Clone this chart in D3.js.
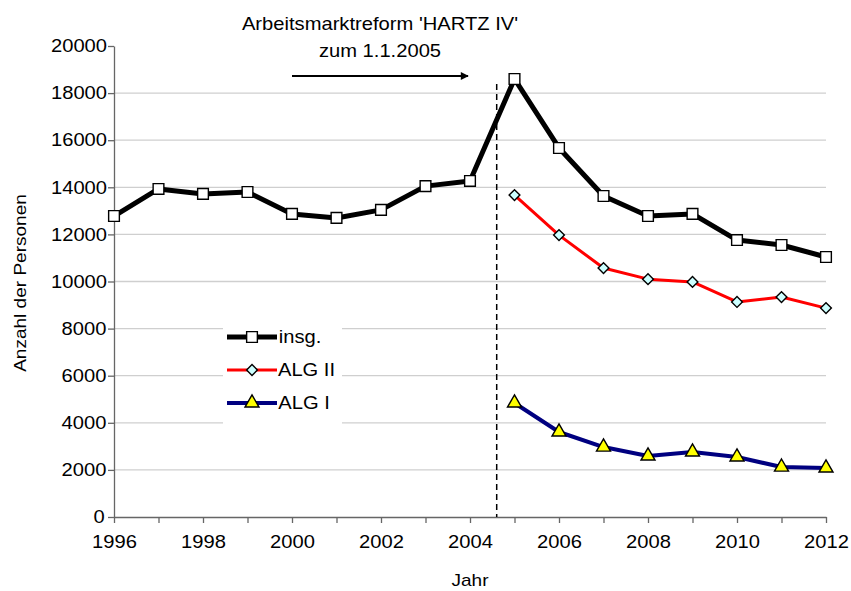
<!DOCTYPE html>
<html>
<head>
<meta charset="utf-8">
<script src="https://cdn.jsdelivr.net/npm/d3@7"></script>
<style>
  body { margin: 0; background: #fff; }
  svg text { font-family: "Liberation Sans", Arial, sans-serif; fill: #000;
    transform-box: fill-box; transform-origin: center; transform: scaleX(1.12); }
</style>
</head>
<body>
<div id="chart"></div>
<script>
var w = 851, h = 591;
var mLeft = 114, mRight = 826, mTop = 46, mBottom = 517;

// data
var years = [1996, 1997, 1998, 1999, 2000, 2001, 2002, 2003, 2004, 2005, 2006, 2007, 2008, 2009, 2010, 2011, 2012];
var insg = [12780, 13930, 13720, 13800, 12870, 12700, 13040, 14050, 14270, 18600, 15670, 13630, 12780, 12870, 11760, 11550, 11040];
var yearsAlg = [2005, 2006, 2007, 2008, 2009, 2010, 2011, 2012];
var algII = [13670, 11970, 10570, 10100, 9980, 9130, 9340, 8870];
var algI = [4840, 3610, 2970, 2590, 2760, 2550, 2120, 2080];
var yTicks = [0, 2000, 4000, 6000, 8000, 10000, 12000, 14000, 16000, 18000, 20000];
var seriesNames = ["insg.", "ALG II", "ALG I"];
var reformYear = 2004.6;
var noteLines = ["Arbeitsmarktreform 'HARTZ IV'", "zum 1.1.2005"];
var xTitle = "Jahr", yTitle = "Anzahl der Personen";

var svg = d3.select("#chart").append("svg").attr("width", w).attr("height", h);

var x = d3.scaleLinear().domain([1996, 2012]).range([mLeft, mRight]);
var y = d3.scaleLinear().domain([0, 20000]).range([mBottom, mTop]);

// gridlines
svg.append("g").selectAll("line")
    .data(yTicks.filter(function(d) { return d > 0 && d < 20000; }))
    .enter().append("line")
    .attr("x1", mLeft).attr("x2", mRight)
    .attr("y1", function(d) { return y(d); }).attr("y2", function(d) { return y(d); })
    .attr("stroke", "#cfcfcf").attr("stroke-width", 1.3);

// axes
var xAxis = svg.append("g")
    .attr("transform", "translate(0," + mBottom + ")")
    .call(d3.axisBottom(x).tickValues(years).tickSize(6).tickSizeOuter(0)
        .tickFormat(function(d) { return d % 2 === 0 ? d : ""; }));
var yAxis = svg.append("g")
    .attr("transform", "translate(" + mLeft + ",0)")
    .call(d3.axisLeft(y).tickValues(yTicks).tickSize(6).tickSizeOuter(0).tickFormat(d3.format("d")));
[xAxis, yAxis].forEach(function(a) {
    a.select(".domain").attr("stroke", "#666").attr("stroke-width", 1.3);
    a.selectAll(".tick line").attr("stroke", "#666").attr("stroke-width", 1.3);
    a.selectAll("text").attr("font-size", 18).attr("fill", "#000");
});
xAxis.selectAll("text").attr("dy", "1.25em");
yAxis.selectAll("text").attr("x", -10);

// axis titles
svg.append("text").attr("x", 470).attr("y", 586).attr("text-anchor", "middle")
    .attr("font-size", 17).text(xTitle);
svg.append("g").attr("transform", "translate(26,283) rotate(-90)")
    .append("text").attr("text-anchor", "middle").attr("font-size", 17).text(yTitle);

// reform marker
svg.append("line")
    .attr("x1", x(reformYear)).attr("x2", x(reformYear))
    .attr("y1", 84).attr("y2", mBottom)
    .attr("stroke", "#000").attr("stroke-width", 1.5).attr("stroke-dasharray", "6,4");

svg.append("defs").append("marker")
    .attr("id", "arrow").attr("viewBox", "0 0 10 10").attr("refX", 9).attr("refY", 5)
    .attr("markerWidth", 5).attr("markerHeight", 4).attr("orient", "auto")
    .append("path").attr("d", "M0,0L10,5L0,10Z").attr("fill", "#000");
svg.append("line").attr("x1", 292).attr("x2", 468).attr("y1", 76).attr("y2", 76)
    .attr("stroke", "#000").attr("stroke-width", 2).attr("marker-end", "url(#arrow)");

svg.selectAll(".note").data(noteLines).enter().append("text")
    .attr("class", "note")
    .attr("x", 380).attr("y", function(d, i) { return 30 + i * 27; })
    .attr("text-anchor", "middle").attr("font-size", 18).text(function(d) { return d; });

// series
var line = d3.line().x(function(d) { return x(d[0]); }).y(function(d) { return y(d[1]); });
var sq = d3.symbol().type(d3.symbolSquare).size(115);
var dia = d3.symbol().type(d3.symbolSquare).size(58);
var tri = d3.symbol().type(d3.symbolTriangle).size(85);

var series = [
    { name: seriesNames[0], data: d3.zip(years, insg), color: "#000", width: 5, sym: sq, rot: 0, fill: "#fff" },
    { name: seriesNames[1], data: d3.zip(yearsAlg, algII), color: "#ff0000", width: 3, sym: dia, rot: 45, fill: "#ccffff" },
    { name: seriesNames[2], data: d3.zip(yearsAlg, algI), color: "#000080", width: 4, sym: tri, rot: 0, fill: "#ffff00" }
];

series.forEach(function(s) {
    svg.append("path").datum(s.data).attr("d", line)
        .attr("fill", "none").attr("stroke", s.color).attr("stroke-width", s.width)
        .attr("stroke-linejoin", "round");
    svg.append("g").selectAll("path").data(s.data).enter().append("path")
        .attr("transform", function(d) { return "translate(" + x(d[0]) + "," + y(d[1]) + ") rotate(" + s.rot + ")"; })
        .attr("d", s.sym).attr("fill", s.fill).attr("stroke", "#000").attr("stroke-width", 1.4);
});

// legend
var legend = svg.append("g");
legend.append("rect").attr("x", 223).attr("y", 320).attr("width", 119).attr("height", 104).attr("fill", "#fff");
series.forEach(function(s, i) {
    var ly = 337 + i * 33;
    legend.append("line").attr("x1", 227).attr("x2", 277).attr("y1", ly).attr("y2", ly)
        .attr("stroke", s.color).attr("stroke-width", s.width);
    legend.append("path").attr("transform", "translate(252," + ly + ") rotate(" + s.rot + ")")
        .attr("d", s.sym).attr("fill", s.fill).attr("stroke", "#000").attr("stroke-width", 1.4);
    legend.append("text").attr("x", 281).attr("y", ly + 6).attr("font-size", 18).text(s.name);
});
</script>
</body>
</html>
